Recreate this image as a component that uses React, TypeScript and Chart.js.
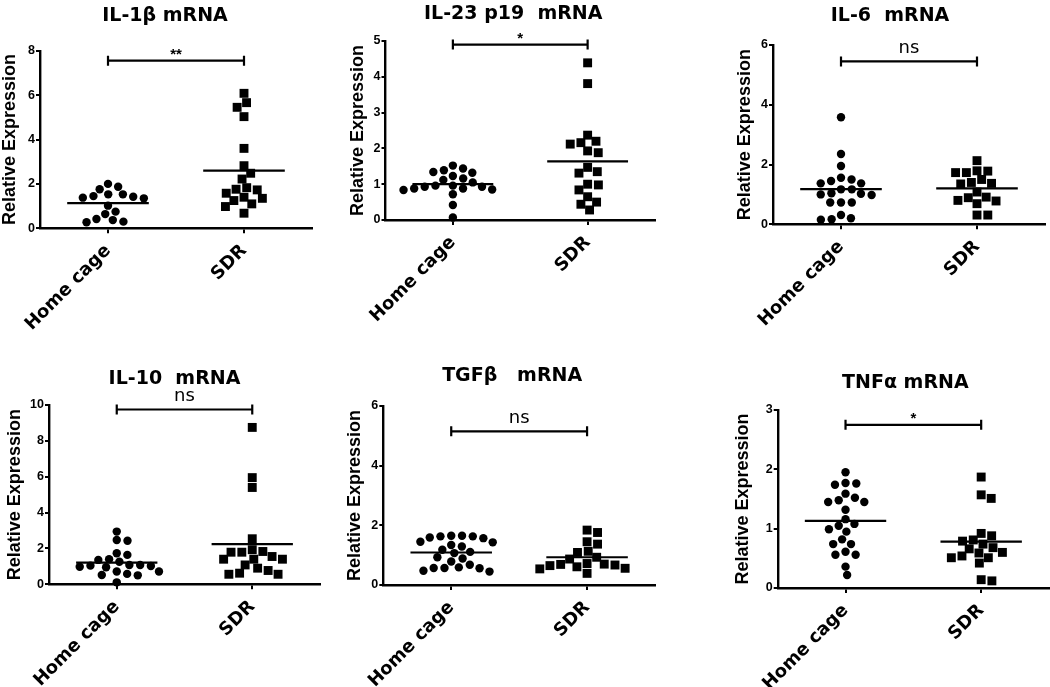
import React, { useEffect, useRef } from "react";
import { Chart, registerables } from "chart.js";

Chart.register(...registerables);

// ---------- data ----------
const groups = ["Home cage", "SDR"];
const panelTitles = ["IL-1β mRNA", "IL-23 p19  mRNA", "IL-6  mRNA", "IL-10  mRNA", "TGFβ   mRNA", "TNFα mRNA"];
const yAxisTitle = "Relative Expression";
const yMaxes = [8, 5, 6, 10, 6, 3];
const ySteps = [2, 1, 2, 2, 2, 1];

const il1bHome = [2.0, 1.76, 1.87, 1.42, 1.38, 1.53, 1.53, 1.35, 1.45, 1.02, 0.64, 0.75, 0.37, 0.27, 0.3, 0.42];
const il1bSdr = [6.08, 5.66, 5.45, 5.03, 3.6, 2.82, 2.48, 2.22, 1.73, 1.76, 1.83, 1.58, 1.4, 1.25, 1.1, 0.98, 1.35, 0.68];

const il23Home = [1.39, 1.32, 1.52, 1.16, 1.12, 1.23, 1.34, 1.44, 0.96, 0.88, 0.85, 0.93, 0.84, 0.88, 0.93, 0.96, 1.05, 0.72, 0.42, 0.07];
const il23Sdr = [4.39, 3.81, 2.37, 2.12, 2.2, 2.16, 1.88, 1.93, 1.47, 1.35, 1.31, 0.98, 1.0, 0.84, 0.65, 0.5, 0.44, 0.28];

const il6Home = [3.58, 2.35, 1.95, 1.45, 1.37, 1.56, 1.37, 1.5, 1.17, 1.17, 1.04, 1.02, 0.98, 1.0, 0.73, 0.73, 0.73, 0.2, 0.15, 0.17, 0.31];
const il6Sdr = [2.13, 1.79, 1.73, 1.73, 1.78, 1.5, 1.4, 1.35, 1.37, 1.08, 0.91, 0.8, 0.78, 0.89, 0.69, 0.31, 0.31];

const il10Home = [2.94, 2.47, 2.43, 1.73, 1.64, 1.4, 1.36, 1.26, 1.08, 1.08, 1.04, 1.02, 0.98, 0.95, 0.71, 0.71, 0.58, 0.52, 0.5, 0.11];
const il10Sdr = [8.75, 5.95, 5.4, 2.54, 1.93, 1.79, 1.79, 1.83, 1.55, 1.4, 1.4, 1.4, 0.9, 1.08, 0.62, 0.56, 0.56, 0.77];

const tgfbHome = [1.63, 1.57, 1.65, 1.65, 1.59, 1.63, 1.43, 1.45, 1.29, 1.34, 1.11, 1.18, 0.93, 0.89, 1.07, 0.68, 0.79, 0.57, 0.56, 0.57, 0.59, 0.45, 0.48];
const tgfbSdr = [1.84, 1.76, 1.37, 1.45, 1.13, 1.09, 0.93, 0.87, 0.72, 0.65, 0.7, 0.69, 0.54, 0.56, 0.61, 0.67, 0.39];

const tnfaHome = [1.95, 1.77, 1.74, 1.76, 1.52, 1.45, 1.45, 1.48, 1.59, 1.32, 1.16, 1.08, 1.05, 0.99, 0.95, 0.74, 0.74, 0.82, 0.56, 0.56, 0.61, 0.36, 0.22];
const tnfaSdr = [1.87, 1.51, 1.57, 0.92, 0.88, 0.81, 0.74, 0.66, 0.68, 0.79, 0.6, 0.54, 0.51, 0.51, 0.59, 0.42, 0.12, 0.14];

const homeSeries = [il1bHome, il23Home, il6Home, il10Home, tgfbHome, tnfaHome];
const sdrSeries = [il1bSdr, il23Sdr, il6Sdr, il10Sdr, tgfbSdr, tnfaSdr];
const homeMeans = [1.13, 1.0, 1.18, 1.21, 1.09, 1.13];
const sdrMeans = [2.6, 1.64, 1.2, 2.24, 0.93, 0.78];
const bracketLevels = [7.55, 4.9, 5.45, 9.75, 5.15, 2.75];
const sigLabels = ["**", "*", "ns", "ns", "ns", "*"];

// ---------- layout (page pixels) ----------
const PANELS = [
  { axisX: 40, top: 50.7, bottom: 228.3, right: 312, yTitleGap: 30, titleDx: -11, titleDy: -37 },
  { axisX: 385.5, top: 41, bottom: 220, right: 655, yTitleGap: 27.5, titleDx: -7, titleDy: -29 },
  { axisX: 773, top: 45, bottom: 224.3, right: 1045, yTitleGap: 28, titleDx: -19, titleDy: -31 },
  { axisX: 49, top: 405, bottom: 584.3, right: 320, yTitleGap: 34, titleDx: -10, titleDy: -28.3 },
  { axisX: 383.3, top: 406, bottom: 585, right: 655, yTitleGap: 28, titleDx: -7, titleDy: -32 },
  { axisX: 777.7, top: 410, bottom: 588, right: 1049, yTitleGap: 34.5, titleDx: -8, titleDy: -29 },
];

const Y_W = 50;
const PAD_T = 50;
const X_H = 105;
const GAP_X = 10.8; // horizontal spacing of neighbouring markers
const MEAN_HALF = 0.3;

function swarm(values: number[], center: number, chart: any, gapY: number) {
  const xs = chart.scales.x;
  const ys = chart.scales.y;
  const pxPerUnit = xs.getPixelForValue(1) - xs.getPixelForValue(0);
  const order = values.map((_, k) => k).sort((a, b) => values[b] - values[a]);
  const placed: { x: number; y: number }[] = [];
  const out: { x: number; y: number }[] = new Array(values.length);
  const clear = (c: number, py: number) =>
    placed.every((p) => ((p.x - c) / GAP_X) ** 2 + ((p.y - py) / gapY) ** 2 >= 0.999);
  for (const k of order) {
    const py = ys.getPixelForValue(values[k]);
    const cands = [0];
    for (const p of placed) {
      const dy = py - p.y;
      if (Math.abs(dy) < gapY) {
        const dx = GAP_X * Math.sqrt(1 - (dy / gapY) ** 2);
        cands.push(p.x + dx, p.x - dx);
      }
    }
    cands.sort((a, b) => Math.abs(a) - Math.abs(b) || b - a);
    let best = 0;
    for (const c of cands) {
      if (clear(c, py)) {
        best = c;
        break;
      }
    }
    placed.push({ x: best, y: py });
    out[k] = { x: center + best / pxPerUnit, y: values[k] };
  }
  return out;
}

function Panel({ i }: { i: number }) {
  const ref = useRef<HTMLCanvasElement>(null);
  const L = PANELS[i];
  const left = Math.floor(L.axisX - Y_W);
  const top = Math.floor(L.top - PAD_T);
  const yW = L.axisX - left;
  const padTop = L.top - top;
  const width = Math.ceil(L.right + 8 - left);
  const height = Math.ceil(L.bottom + X_H - top);
  const xH = height - (L.bottom - top);
  const padRight = width - (L.right - left);

  useEffect(() => {
    const canvas = ref.current!;
    const annot = {
      id: "annot" + i,
      afterDatasetsDraw(chart: any) {
        const { ctx, chartArea } = chart;
        const xs = chart.scales.x;
        const ys = chart.scales.y;
        ctx.save();
        ctx.strokeStyle = "#000";
        ctx.fillStyle = "#000";
        ctx.lineWidth = 2.2;
        const x0 = xs.getPixelForValue(0);
        const x1 = xs.getPixelForValue(1);
        const by = ys.getPixelForValue(bracketLevels[i]);
        ctx.beginPath();
        ctx.moveTo(x0, by);
        ctx.lineTo(x1, by);
        ctx.moveTo(x0, by - 5);
        ctx.lineTo(x0, by + 5);
        ctx.moveTo(x1, by - 5);
        ctx.lineTo(x1, by + 5);
        ctx.stroke();
        ctx.textAlign = "center";
        ctx.textBaseline = "alphabetic";
        const lab = sigLabels[i];
        if (lab === "ns") {
          ctx.font = '18px "DejaVu Sans"';
          ctx.fillText(lab, (x0 + x1) / 2, by - 8);
        } else {
          ctx.font = 'bold 15px "Liberation Sans"';
          ctx.fillText(lab, (x0 + x1) / 2, by - 2);
        }
        ctx.font = 'bold 19px "DejaVu Sans"';
        ctx.fillText(panelTitles[i], (chartArea.left + chartArea.right) / 2 + L.titleDx, chartArea.top + L.titleDy + 7);
        ctx.restore();
      },
    };

    const chart = new Chart(canvas, {
      type: "scatter",
      data: {
        datasets: [
          {
            label: groups[0],
            data: [],
            pointStyle: "circle",
            pointRadius: 4.2,
            backgroundColor: "#000",
            borderColor: "#000",
            borderWidth: 0,
            clip: false,
          } as any,
          {
            label: groups[1],
            data: [],
            pointStyle: "rect",
            pointRadius: 6.3,
            backgroundColor: "#000",
            borderColor: "#000",
            borderWidth: 0,
            clip: false,
          } as any,
          {
            type: "line",
            label: "mean " + groups[0],
            data: [
              { x: -MEAN_HALF, y: homeMeans[i] },
              { x: MEAN_HALF, y: homeMeans[i] },
            ],
            borderColor: "#000",
            borderWidth: 2.2,
            pointRadius: 0,
            fill: false,
            clip: false,
          } as any,
          {
            type: "line",
            label: "mean " + groups[1],
            data: [
              { x: 1 - MEAN_HALF, y: sdrMeans[i] },
              { x: 1 + MEAN_HALF, y: sdrMeans[i] },
            ],
            borderColor: "#000",
            borderWidth: 2.2,
            pointRadius: 0,
            fill: false,
            clip: false,
          } as any,
        ],
      },
      options: {
        responsive: false,
        animation: false,
        devicePixelRatio: 1,
        layout: { padding: { left: 0, top: padTop, right: padRight, bottom: 0 } },
        plugins: {
          legend: { display: false },
          tooltip: { enabled: false },
          title: { display: false },
        },
        scales: {
          x: {
            type: "linear",
            min: -0.5,
            max: 1.5,
            afterBuildTicks: (s: any) => {
              s.ticks = [{ value: 0 }, { value: 1 }];
            },
            afterFit: (s: any) => {
              s.height = xH;
              s.paddingLeft = 0;
              s.paddingRight = 0;
              s.paddingTop = 0;
              s.paddingBottom = 0;
            },
            ticks: {
              callback: (v: any) => groups[v] ?? "",
              autoSkip: false,
              minRotation: 45,
              maxRotation: 45,
              color: "#000",
              padding: 7,
              font: { family: '"DejaVu Sans"', weight: "bold", size: 18 },
            },
            grid: { drawOnChartArea: false, drawTicks: true, tickLength: 5, color: "#000", lineWidth: 2 },
            border: { display: true, color: "#000", width: 2.4 },
          },
          y: {
            type: "linear",
            min: 0,
            max: yMaxes[i],
            afterFit: (s: any) => {
              s.width = yW;
              s.paddingLeft = 0;
              s.paddingRight = 0;
              s.paddingTop = 0;
              s.paddingBottom = 0;
            },
            ticks: {
              stepSize: ySteps[i],
              color: "#000",
              padding: 1,
              font: { family: '"Liberation Sans"', weight: "bold", size: 12.5 },
            },
            grid: { drawOnChartArea: false, drawTicks: true, tickLength: 4, color: "#000", lineWidth: 2 },
            border: { display: true, color: "#000", width: 2.4 },
            title: {
              display: true,
              text: yAxisTitle,
              color: "#000",
              font: { family: '"Liberation Sans"', weight: "bold", size: 18 },
              padding: { top: yW - L.yTitleGap - 10.8, bottom: 0 },
            },
          },
        },
      } as any,
      plugins: [annot],
    });

    chart.data.datasets[0].data = swarm(homeSeries[i], 0, chart, 8.4) as any;
    chart.data.datasets[1].data = swarm(sdrSeries[i], 1, chart, 9.6) as any;
    chart.update("none");

    return () => chart.destroy();
  }, []);

  return (
    <canvas
      ref={ref}
      width={width}
      height={height}
      style={{ position: "absolute", left, top, width, height }}
    />
  );
}

export default function App() {
  return (
    <div
      style={{
        position: "absolute",
        left: 0,
        top: 0,
        width: 1050,
        height: 687,
        overflow: "hidden",
        background: "#fff",
      }}
    >
      {PANELS.map((_, i) => (
        <Panel key={i} i={i} />
      ))}
    </div>
  );
}
